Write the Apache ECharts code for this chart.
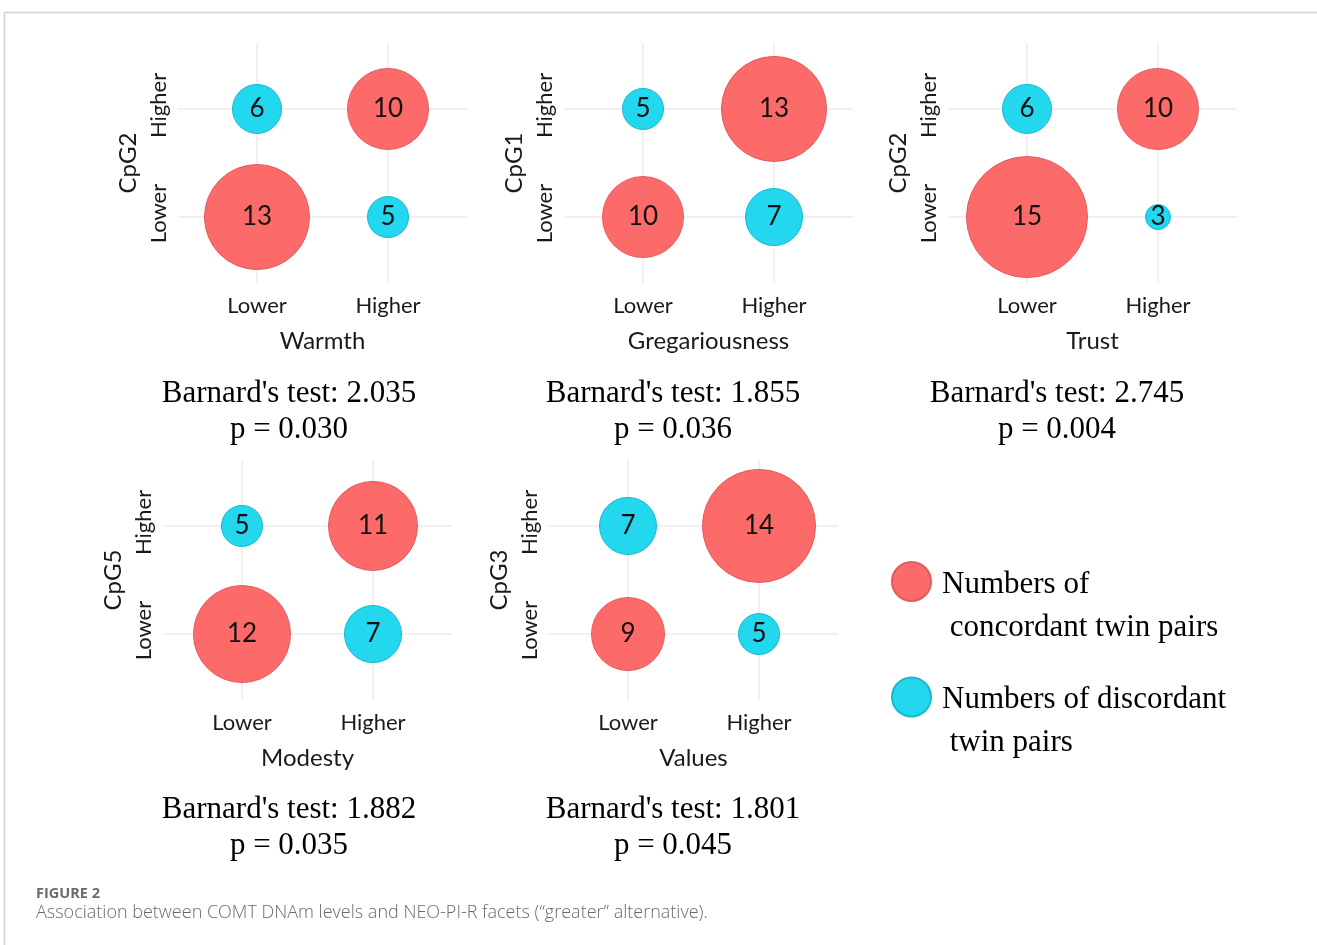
<!DOCTYPE html>
<html>
<head>
<meta charset="utf-8">
<script src="https://cdn.jsdelivr.net/npm/echarts@6/dist/echarts.min.js"></script>
<style>
  html, body { margin: 0; padding: 0; background: #ffffff; }
  #chart { width: 1317px; height: 945px; }
</style>
</head>
<body>
<div id="chart"></div>
<script>
// ---- data ----
const levels = ['Lower', 'Higher'];
const facets = ['Warmth', 'Gregariousness', 'Trust', 'Modesty', 'Values'];
const cpgSites = ['CpG2', 'CpG1', 'CpG2', 'CpG5', 'CpG3'];
// concordant pairs: [facet Lower & CpG Lower, facet Higher & CpG Higher]
const concordant = [[13, 10], [10, 13], [15, 10], [12, 11], [9, 14]];
// discordant pairs: [facet Lower & CpG Higher, facet Higher & CpG Lower]
const discordant = [[6, 5], [5, 7], [6, 3], [5, 7], [7, 5]];
const barnardStat = ['2.035', '1.855', '2.745', '1.882', '1.801'];
const pValues = ['0.030', '0.036', '0.004', '0.035', '0.045'];
const seriesNames = ['Numbers of concordant twin pairs', 'Numbers of discordant twin pairs'];
const legendLines = [['Numbers of', ' concordant twin pairs'], ['Numbers of discordant', ' twin pairs']];
const captionLabel = 'FIGURE 2';
const captionText = 'Association between COMT DNAm levels and NEO-PI-R facets (\u201cgreater\u201d alternative).';

// ---- layout ----
const gridBoxes = [
  { left: 178, top: 43 }, { left: 564, top: 43 }, { left: 948, top: 43 },
  { left: 163, top: 460 }, { left: 549, top: 460 }
];
const gridW = 289, gridH = 240;
const statCenters = [[289, 412], [673, 412], [1057, 412], [289, 828], [673, 828]];

const RED = '#fd6a6a', RED_EDGE = '#e45a5c';
const CYAN = '#22d7ee', CYAN_EDGE = '#17b9cf';
const SANS = 'Lato, "Open Sans", sans-serif';
const SERIF = '"Liberation Serif", "Times New Roman", serif';

const grids = [], xAxes = [], yAxes = [], series = [], graphics = [];

const bubbleSize = v => v[2] * 8 + 1;
const bubbleLabel = {
  show: true, position: 'inside',
  formatter: p => String(p.value[2]),
  fontFamily: SANS, fontSize: 26, color: '#111'
};

facets.forEach((facet, i) => {
  const g = gridBoxes[i];
  grids.push({ left: g.left, top: g.top, width: gridW, height: gridH, containLabel: false });
  xAxes.push({
    gridIndex: i, type: 'value', min: 0.397, max: 2.603,
    name: facet, nameLocation: 'middle', nameGap: 46,
    nameTextStyle: { fontFamily: SANS, fontSize: 24, color: '#1a1a1a' },
    axisLine: { show: false },
    axisTick: { show: false, customValues: [1, 2] },
    axisLabel: {
      customValues: [1, 2], formatter: v => levels[Math.round(v) - 1] || '',
      margin: 12, fontFamily: SANS, fontSize: 22, color: '#1a1a1a'
    },
    splitLine: { show: true, lineStyle: { color: '#ebebeb', width: 1.5 } }
  });
  yAxes.push({
    gridIndex: i, type: 'value', min: 0.39, max: 2.61,
    name: cpgSites[i], nameLocation: 'middle', nameGap: 38,
    nameTextStyle: { fontFamily: SANS, fontSize: 24, color: '#1a1a1a' },
    axisLine: { show: false },
    axisTick: { show: false, customValues: [1, 2] },
    axisLabel: {
      customValues: [1, 2], formatter: v => levels[Math.round(v) - 1] || '',
      rotate: 90, margin: 8, padding: [0, 0, 0, 7],
      fontFamily: SANS, fontSize: 22, color: '#1a1a1a'
    },
    splitLine: { show: true, lineStyle: { color: '#ebebeb', width: 1.5 } }
  });
  series.push({
    name: seriesNames[0], type: 'scatter', xAxisIndex: i, yAxisIndex: i,
    data: [[1, 1, concordant[i][0]], [2, 2, concordant[i][1]]],
    symbolSize: bubbleSize,
    itemStyle: { color: RED, borderColor: RED_EDGE, borderWidth: 1, opacity: 1 },
    label: bubbleLabel, emphasis: { disabled: true }
  });
  series.push({
    name: seriesNames[1], type: 'scatter', xAxisIndex: i, yAxisIndex: i,
    data: [[1, 2, discordant[i][0]], [2, 1, discordant[i][1]]],
    symbolSize: bubbleSize,
    itemStyle: { color: CYAN, borderColor: CYAN_EDGE, borderWidth: 1, opacity: 1 },
    label: bubbleLabel, emphasis: { disabled: true }
  });
  // test statistic beneath each panel
  graphics.push({
    type: 'text', x: statCenters[i][0], y: statCenters[i][1],
    style: {
      text: "Barnard's test: " + barnardStat[i] + '\np = ' + pValues[i],
      fontFamily: SERIF, fontSize: 31, lineHeight: 36, fill: '#000',
      align: 'center', verticalAlign: 'middle'
    }
  });
});

// figure frame and caption
graphics.push(
  { type: 'line', shape: { x1: 4, y1: 12.5, x2: 1317, y2: 12.5 }, style: { stroke: '#d2d2d2', lineWidth: 1.5 } },
  { type: 'line', shape: { x1: 4.5, y1: 12, x2: 4.5, y2: 945 }, style: { stroke: '#d2d2d2', lineWidth: 1.5 } },
  { type: 'text', x: 36, y: 893.5, style: { text: captionLabel, fontFamily: '"Open Sans", sans-serif', fontWeight: 700, fontSize: 14.5, fill: '#6b6b6b', verticalAlign: 'middle' } },
  { type: 'text', x: 36, y: 913, style: { text: captionText, fontFamily: '"Open Sans", sans-serif', fontWeight: 300, fontSize: 18, fill: '#6a6a6a', verticalAlign: 'middle' } }
);

// legend text: a blank spacer line keeps the icon level with the first text line
const legendBase = {
  orient: 'vertical', left: 891, padding: 0, itemWidth: 39, itemHeight: 39, icon: 'circle',
  selectedMode: false,
  formatter: name => {
    const lines = legendLines[seriesNames.indexOf(name)];
    return '{gap| }\n{t|' + lines[0] + '}\n{t|' + lines[1] + '}';
  },
  textStyle: {
    fontFamily: SERIF, fontSize: 31, color: '#000', padding: [0, 0, 0, 6],
    rich: {
      gap: { lineHeight: 49, fontSize: 10, fontFamily: SERIF },
      t: { lineHeight: 43, fontSize: 31, fontFamily: SERIF, color: '#000' }
    }
  }
};

const chart = echarts.init(document.getElementById('chart'), null, { renderer: 'canvas' });
chart.setOption({
  animation: false,
  backgroundColor: '#ffffff',
  grid: grids, xAxis: xAxes, yAxis: yAxes, series: series,
  legend: [
    Object.assign({}, legendBase, { top: 533.5, data: [seriesNames[0]] }),
    Object.assign({}, legendBase, { top: 649, data: [seriesNames[1]] })
  ],
  graphic: graphics
});
</script>
</body>
</html>
